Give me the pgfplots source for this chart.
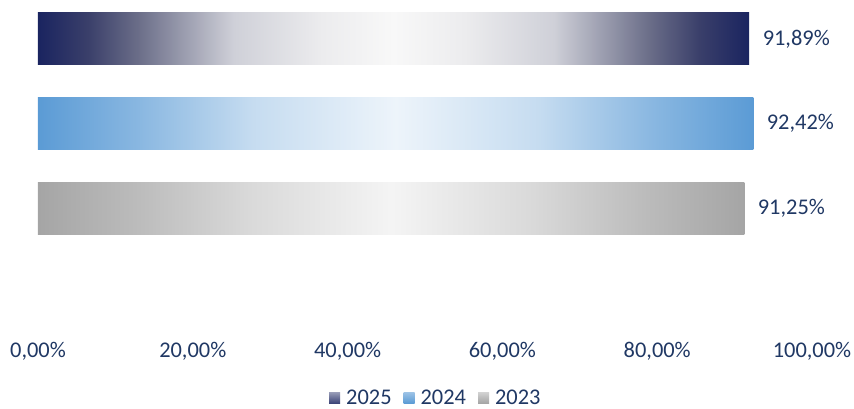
\documentclass[border=0pt]{standalone}
\usepackage{pgfplots}
\pgfplotsset{compat=1.18}
\usepackage{fontspec}
\setmainfont{Carlito}
\definecolor{txt}{HTML}{203864}
\definecolor{navy}{RGB}{26,36,96}
\definecolor{nv1}{RGB}{58,63,106}
\definecolor{nv2}{RGB}{106,109,136}
\definecolor{nv3}{RGB}{207,208,216}
\definecolor{nv4}{RGB}{236,236,238}
\definecolor{nv5}{RGB}{248,248,248}
\definecolor{blu}{HTML}{5B9BD5}
\definecolor{gry}{HTML}{A5A5A5}
\pgfdeclarehorizontalshading{navyshade}{100bp}{%
  color(0bp)=(navy); color(25bp)=(navy); color(28.5bp)=(nv1); color(32bp)=(nv2);
  color(38.75bp)=(nv3); color(45bp)=(nv4); color(50bp)=(nv5);
  color(55bp)=(nv4); color(61.25bp)=(nv3); color(68bp)=(nv2); color(71.5bp)=(nv1);
  color(75bp)=(navy); color(100bp)=(navy)}
\pgfdeclarehorizontalshading{blushade}{100bp}{%
  color(0bp)=(blu); color(25bp)=(blu); color(32bp)=(blu!72!white);
  color(40bp)=(blu!35!white); color(50bp)=(blu!11!white);
  color(60bp)=(blu!35!white); color(68bp)=(blu!72!white);
  color(75bp)=(blu); color(100bp)=(blu)}
\pgfdeclarehorizontalshading{gryshade}{100bp}{%
  color(0bp)=(gry); color(25bp)=(gry); color(32bp)=(gry!75!white);
  color(40bp)=(gry!42!white); color(50bp)=(gry!12!white);
  color(60bp)=(gry!42!white); color(68bp)=(gry!75!white);
  color(75bp)=(gry); color(100bp)=(gry)}
\begin{document}
\begin{tikzpicture}
\begin{axis}[
  name=a,
  scale only axis,
  width=774bp, height=330bp,
  xmin=0, xmax=100, ymin=-0.5, ymax=3.4,
  xbar, bar width=52bp,
  axis line style={draw=none},
  major tick length=0pt,
  xtick={0,20,40,60,80,100},
  xticklabels={{0,00\%},{20,00\%},{40,00\%},{60,00\%},{80,00\%},{100,00\%}},
  ytick=\empty,
  font=\fontsize{22.5}{26}\selectfont,
  every tick label/.append style={text=txt},
  xticklabel style={yshift=-4bp},
  /pgf/number format/assume math mode=true,
  nodes near coords={\pgfmathprintnumber[use comma,fixed,precision=2,fixed zerofill]{\pgfplotspointmeta}\%},
  nodes near coords style={text=txt, anchor=west, xshift=10bp, font=\fontsize{22.5}{26}\selectfont},
  legend style={at={(0.514,-0.19)}, anchor=center, draw=none, legend columns=-1,
    font=\fontsize{22.5}{26}\selectfont, text=txt, nodes={inner xsep=2bp, inner ysep=1bp},
    /tikz/every odd column/.append style={column sep=4bp},
    /tikz/every even column/.append style={column sep=10bp}},
  clip=false,
]
\addplot[bar shift=0pt, draw=none, shade, shading=navyshade,
  legend image code/.code={\path[top color=navy!45!white, bottom color=navy!85] (0bp,-5.5bp) rectangle (11bp,5.5bp);}]
  coordinates {(91.89,3)};
\addplot[bar shift=0pt, draw=none, shade, shading=blushade,
  legend image code/.code={\path[top color=blu!60!white, bottom color=blu] (0bp,-5.5bp) rectangle (11bp,5.5bp);}]
  coordinates {(92.42,2)};
\addplot[bar shift=0pt, draw=none, shade, shading=gryshade,
  legend image code/.code={\path[top color=gry!50!white, bottom color=gry] (0bp,-5.5bp) rectangle (11bp,5.5bp);}]
  coordinates {(91.25,1)};
\legend{2025,2024,2023}
\end{axis}
\pgfresetboundingbox
\path (a.south west) ++(-38bp,-74bp) rectangle ++(854bp,409bp);
\end{tikzpicture}
\end{document}
